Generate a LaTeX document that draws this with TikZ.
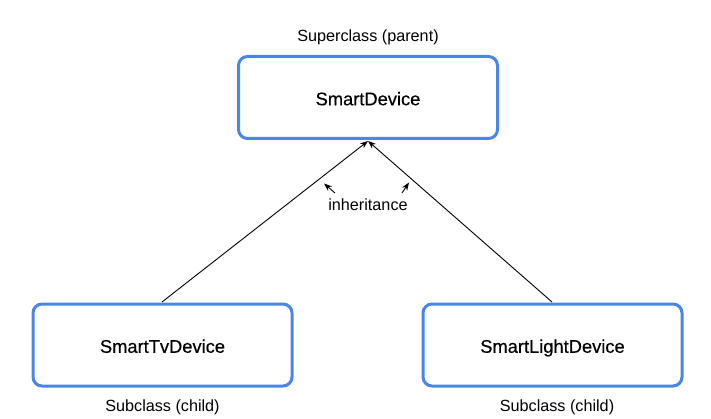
\documentclass[tikz,border=0pt]{standalone}
\usepackage{fontspec}
\setmainfont{Liberation Sans}
\newfontfamily\medfont[FakeBold=0.4]{Liberation Sans}
\usetikzlibrary{arrows.meta}
\definecolor{boxblue}{HTML}{4A86E8}
\tikzset{
  classbox/.style={draw=boxblue, line width=3pt, rounded corners=9pt, minimum width=259pt, minimum height=82pt, font=\medfont\fontsize{18.3}{21}\selectfont, inner sep=0pt, text height=15.5pt, text depth=0pt},
  lbl/.style={font=\fontsize{16.2}{19}\selectfont, inner sep=0pt},
  inh/.style={line width=0.9pt, -{Stealth[length=8pt,width=6pt]}}
}
\begin{document}
\begin{tikzpicture}[x=1pt,y=-1pt]
\useasboundingbox (0,0) rectangle (711,419);
\node[classbox] (sd) at (368,97.5) {SmartDevice};
\node[classbox] (tv) at (162.5,345) {SmartTvDevice};
\node[classbox] (lt) at (552.5,345) {SmartLightDevice};
\node[lbl] (sup) at (368,37) {Superclass (parent)};
\node[lbl] (subl) at (162.5,407) {Subclass (child)};
\node[lbl] (subr) at (557,407) {Subclass (child)};
\node[lbl] (inhl) at (368,205) {inheritance};
\coordinate (top) at (368,141);
\coordinate (tvtop) at (162,302);
\coordinate (lttop) at (552,302);
\draw[inh] (tvtop) -- (top);
\draw[inh] (lttop) -- (top);
\coordinate (a1s) at (335,193);
\coordinate (a1e) at (324,183.5);
\coordinate (a2s) at (402,193);
\coordinate (a2e) at (409,182.5);
\draw[inh] (a1s) -- (a1e);
\draw[inh] (a2s) -- (a2e);
\end{tikzpicture}
\end{document}
